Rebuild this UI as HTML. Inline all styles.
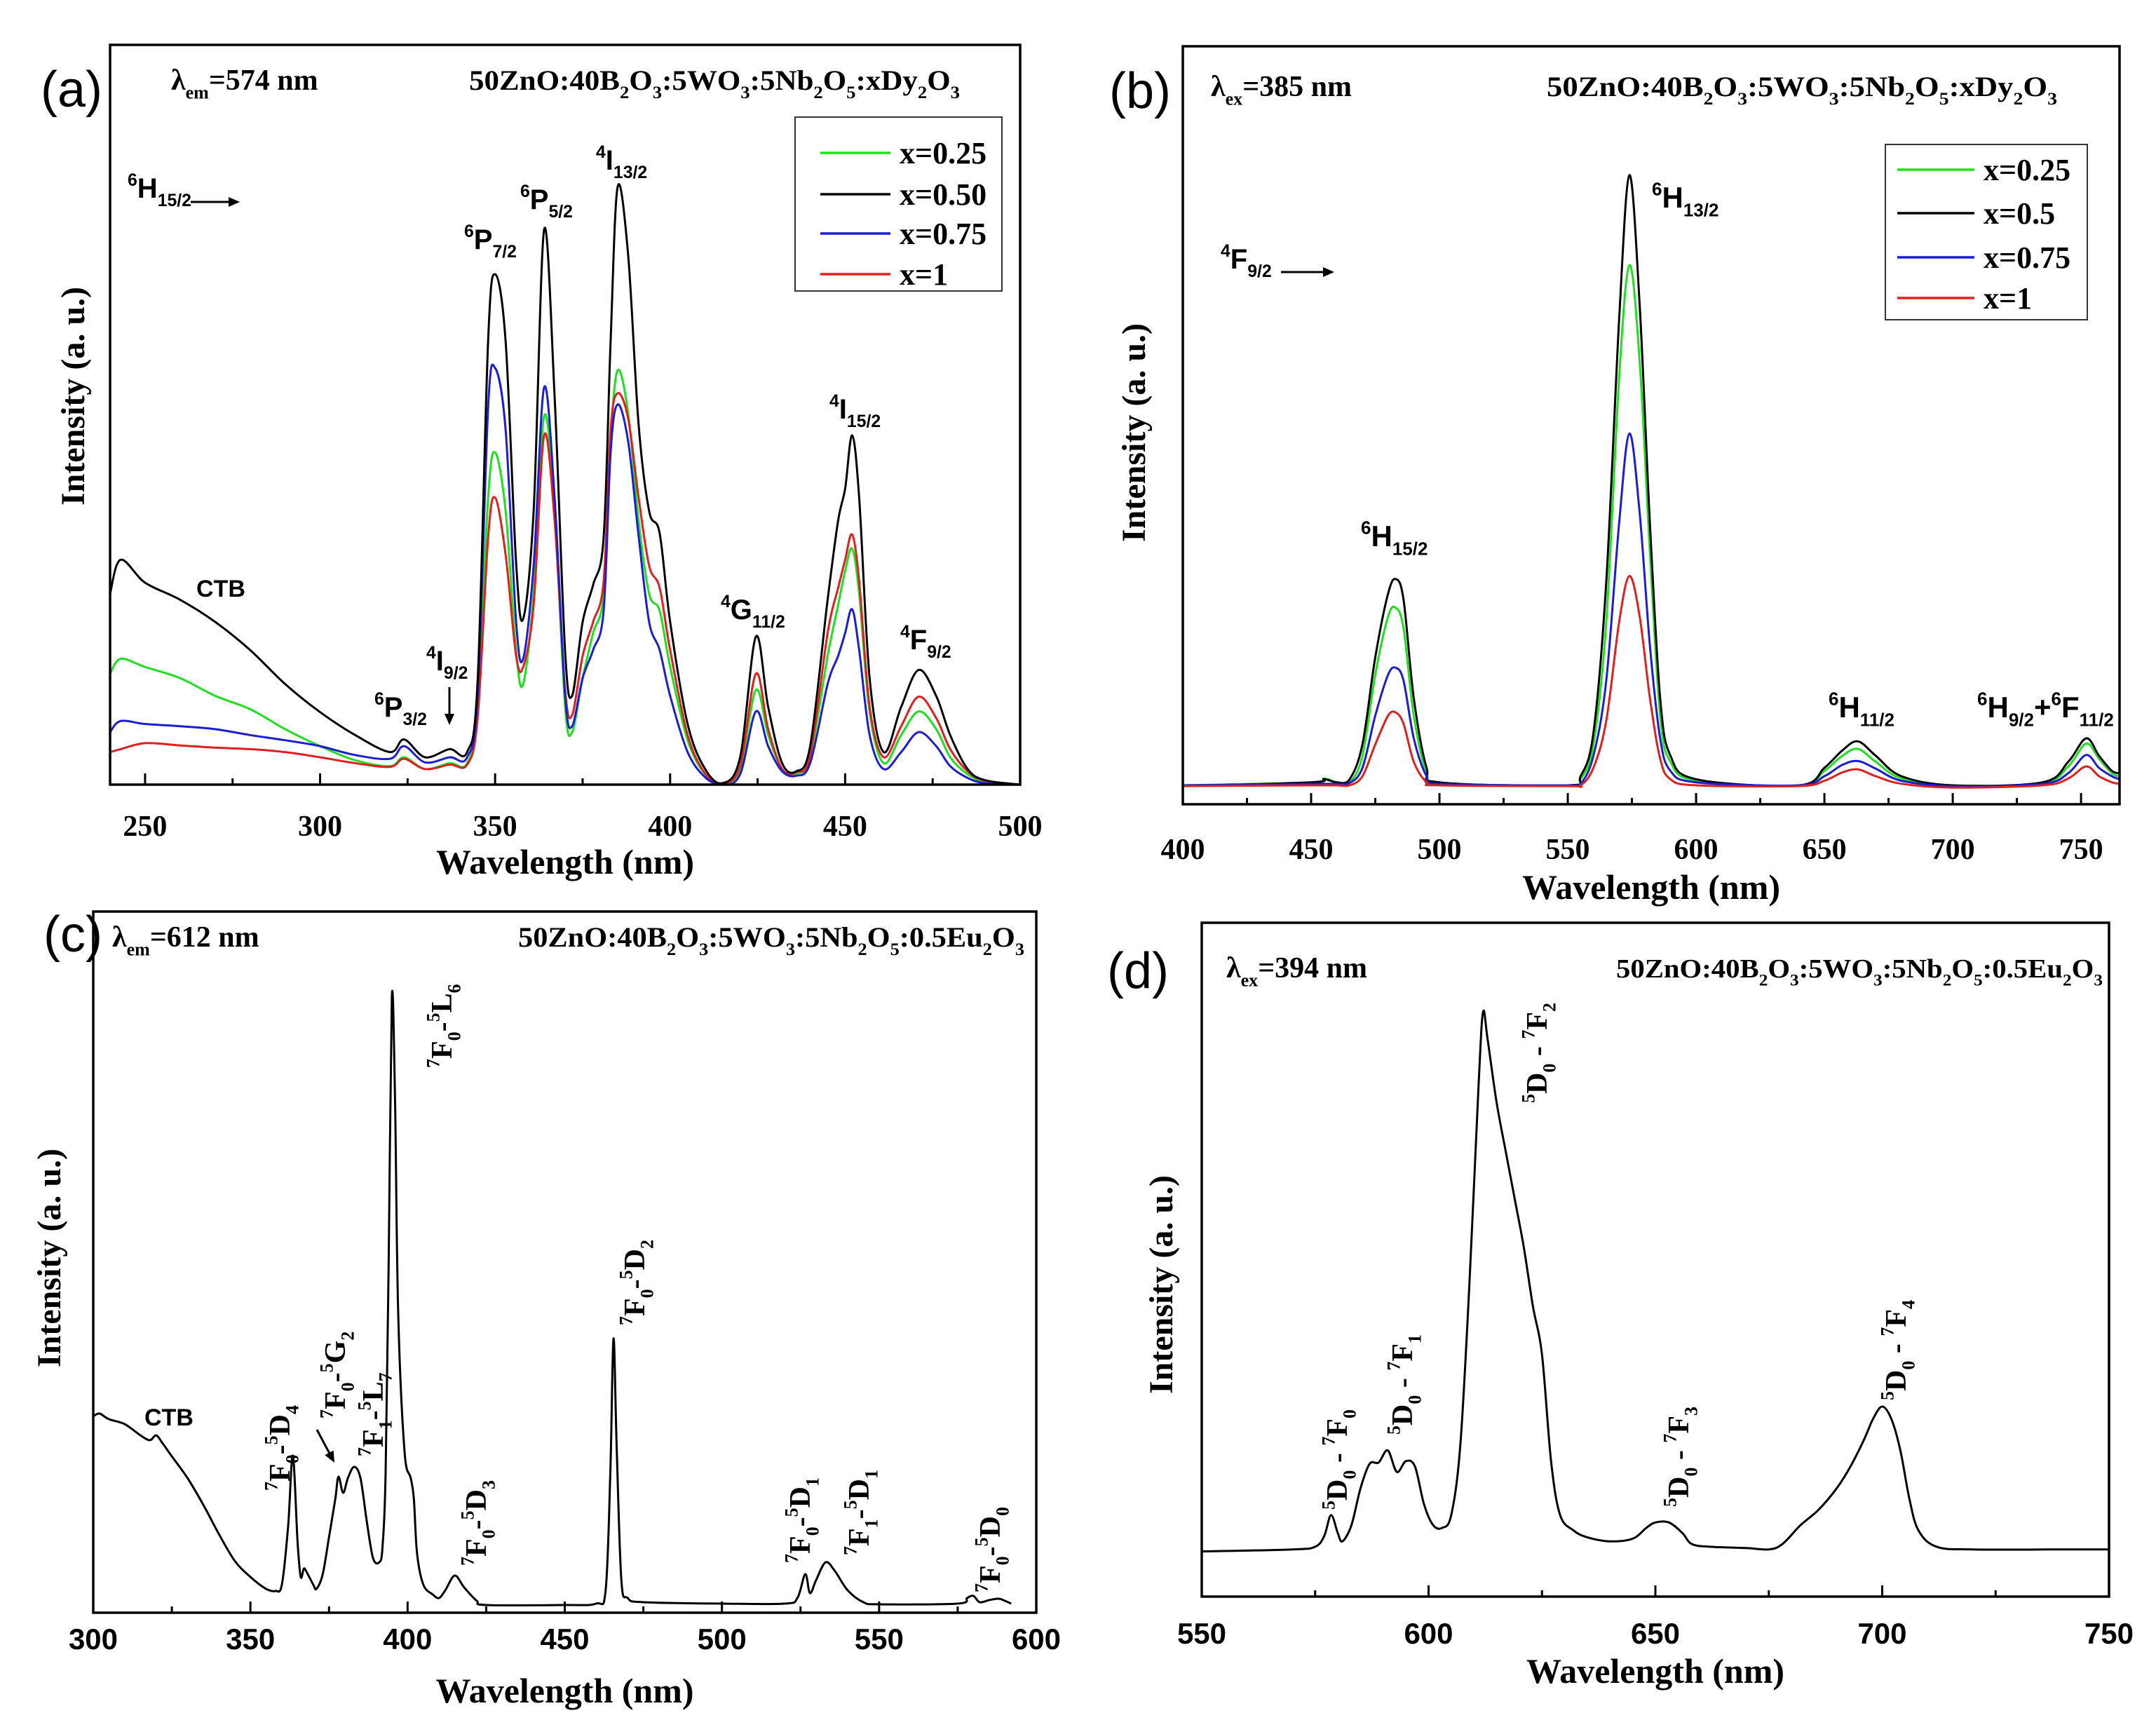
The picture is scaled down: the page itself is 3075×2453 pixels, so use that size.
<!DOCTYPE html>
<html><head><meta charset="utf-8"><style>
html,body{margin:0;padding:0;background:#fff;}
svg{display:block;}
.serif{font-family:"Liberation Serif",serif;font-weight:bold;}
.sans{font-family:"Liberation Sans",sans-serif;font-weight:bold;}
.plain{font-family:"Liberation Sans",sans-serif;font-weight:normal;}
</style></head><body>
<svg id="fig" xmlns="http://www.w3.org/2000/svg" width="3075" height="2453" viewBox="0 0 3075 2453"></svg>
<script>
// ---------- Panel (a) data: excitation spectra ----------
const aWl = [240,243,250,260,270,280,290,300,310,320,324,330,337,342,345,348,350,353,356,358,361,364,367,370,372,375,378,381,383,385,388,391,394,397,400,405,410,415,420,424.5,428,432,436,440,445,448,450,452,454,457,461,466,471,476,480,485,490,500];
const aX025 = [15,17,15.9,14.4,12,10.2,7.5,5.2,3.3,2.5,3.7,2.1,2.9,2.9,10.5,38.8,44.9,37,18,13.6,25.8,49.8,37,10.5,7.1,14.4,20.5,25.8,46.4,56,50.2,35.7,25.8,23.5,15.9,6,1.4,0.2,2.1,12.8,6.7,2.1,1.5,3.7,17.4,24.3,28.9,31.9,25.8,9.8,2.9,6.7,9.9,7.5,3.7,1.4,0.4,0];
const aX050 = [25.8,30.4,27.3,25,22,18.2,13.6,9.8,6.7,4.4,6.1,3.7,4.8,4.4,14,60,69,60,30,22.4,37,75,52.5,18,12,22,27,33.4,60,80.8,71.6,48.7,37,34,22,8.2,2.1,0.2,3.7,20,10.5,2.9,1.8,5.2,25,35.7,40,47.2,38.8,14.4,4.4,10.5,15.5,12,6.7,2.1,0.6,0];
const aX075 = [7.1,8.6,8.2,7.9,7.5,6.7,6,5.2,4,3.5,5.2,3,3.7,3.7,12,51,56.3,48,22,17,29.6,53.7,38.8,12,7.9,14.4,18.2,23.5,44.9,51.4,46.4,33.6,22,18.2,12,4.4,1,0,1.4,9.9,5.2,1.8,1.2,2.9,13.6,17.4,20.5,23.7,18.2,6.7,2.1,4.4,7.1,5.2,2.5,0.9,0.2,0];
const aX100 = [4.4,4.8,5.6,5.3,5,4.8,4.4,3.7,2.9,2.4,3.5,2.1,2.7,2.7,9,33.4,38.8,31.1,17.4,15.9,24.3,47.2,35.7,12.8,9.4,17.4,22,27.5,48,52.9,49.5,38.8,29.6,26.6,18.2,6.7,1.5,0.2,2.5,15,7.5,2.1,1.7,4,20.5,26.6,30.4,33.8,27.5,10.5,3.7,7.9,11.9,9,4.8,1.8,0.5,0];
const aTicks = [250,300,350,400,450,500];
// ---------- Panel (b) data: emission spectra ----------
const bWl = [400,450,455,460,465,470,475,480,483,486,490,495,500,550,555,560,565,570,574,578,582,586,590,600,640,650,657,663,670,680,700,735,745,752,757,762,765];
const bX025 = [2.5,2.9,3.4,2.9,2.9,6.4,17.1,24.8,25.9,23.2,11.7,4.1,2.7,2.5,3.3,7.9,24,56.2,71.1,58.5,33.2,11.7,5.6,3.1,2.5,4.4,6.4,7.3,5.6,3.4,2.5,2.8,5,8,6,4.1,3.7];
const bX050 = [2.4,2.9,3.3,2.9,3.3,7.9,19.4,27.8,29.7,27,14,4.8,2.9,2.5,3.7,9.4,29.3,63.8,83,66,37,14,6.4,3.3,2.5,4.8,7.1,8.3,6.4,3.7,2.5,2.9,5.6,8.7,6.4,4.4,4.1];
const bX075 = [2.5,2.7,2.7,2.7,2.8,4.8,11.7,17.1,18,16.3,8.7,3.7,2.7,2.5,2.7,6.4,16.3,37,48.9,38.5,20.9,8.7,4.4,2.9,2.5,3.7,5.2,5.7,4.7,3.1,2.4,2.7,4.1,6.5,4.8,3.7,3.3];
const bX100 = [2.4,2.5,2.5,2.5,2.5,3.7,7.9,11.7,12.1,10.6,5.6,2.9,2.5,2.4,2.5,4.8,11,24,30.1,24.8,14,6,3.3,2.5,2.4,3.1,4.2,4.6,3.7,2.7,2.2,2.5,3.4,5,3.7,2.9,2.7];
const bTicks = [400,450,500,550,600,650,700,750];
// ---------- Panel (c) data ----------
const cWl = [300,302,305,310,315,318,320,322,325,330,335,340,345,350,355,358,360,362,363.5,365,366,367,368,370,371,373,375,377,378,379.5,381,383,385,387,389,391,392,393,394,395,396,397,399,401,402,403,405,408,410,412,415,418,422,425,450,460,463,464.5,465.5,466.5,468,470,475,500,520,524,526.5,528,530,533,536,540,545,550,575,578,580,582,585,588,590,592];
const cInt = [28,28.4,27.6,26.9,25.3,24.6,25.3,24.2,22.3,19.2,15.4,11.2,7.4,5.1,3.4,3.1,4,12.4,22.4,10.1,5.1,6.3,5.7,4,3.4,5.5,10.8,16.2,19.4,17.1,19.2,20.8,19.2,13.1,7.8,7.2,9.3,20,50.5,87.9,73.4,42.9,23.1,19.2,16.2,8.5,4,2.6,2.1,3.2,5.3,3.6,1.7,1.1,1.1,1.3,3.2,20,39.1,23.8,4.7,2.1,1.5,1.3,1.3,2.1,5.5,2.8,4.7,7.2,5.9,3.2,1.5,1.2,1.3,2.1,2.4,1.5,1.8,2,1.7,1.3];
const cTicks = [300,350,400,450,500,550,600];
// ---------- Panel (d) data ----------
const dWl = [550,570,575,577,578.5,580,581,583,585,587,589,591,593,595,597,599,601,603,605,607,609,611,612,613,615,617,619,621,623,625,627,629,632,635,640,645,648,650,653,656,658,662,670,675,678,682,686,690,693,696,698,700,702,704,706,708,712,720,740,750];
const dInt = [6.7,7,7.4,9,12.1,9.4,8.2,10.6,16.1,19.7,19.9,21.7,18.5,20.1,19.3,13.7,10.6,10.2,12.1,22.5,46.3,75.6,86.7,82.8,73.3,66.1,59,51.8,43.1,35.9,20.1,12.1,9.8,8.8,8.2,8.6,10.2,11,11,9.4,7.8,7.4,7.2,7,7.8,10.6,12.9,16.1,19.3,23.3,26.4,28.2,26.4,21.7,14.5,9.8,7.4,7,7,7];
const dTicks = [550,600,650,700,750];

const NS = 'http://www.w3.org/2000/svg';
const svg = document.getElementById('fig');

function mk(tag, attrs, parent) {
  const el = document.createElementNS(NS, tag);
  for (const k in attrs) el.setAttribute(k, attrs[k]);
  (parent || svg).appendChild(el);
  return el;
}
function rich(el, s, fs) {
  const re = /(\^\{[^}]*\}|_\{[^}]*\})|([^\^_]+)/g;
  let m, cur = 0;
  while ((m = re.exec(s)) !== null) {
    let txt, target, size;
    if (m[1]) {
      txt = m[1].slice(2, -1);
      target = m[1][0] === '^' ? -0.42 * fs : 0.3 * fs;
      size = 0.62 * fs;
    } else { txt = m[2]; target = 0; size = fs; }
    const t = document.createElementNS(NS, 'tspan');
    t.setAttribute('dy', (target - cur).toFixed(1));
    t.setAttribute('font-size', size.toFixed(1));
    t.textContent = txt;
    el.appendChild(t);
    cur = target;
  }
}
function lab(x, y, s, fs, cls, name, opts) {
  opts = opts || {};
  const el = mk('text', {x: x, y: y, 'font-size': fs, class: cls}, svg);
  
  
  if (opts.anchor) el.setAttribute('text-anchor', opts.anchor);
  if (opts.rot) el.setAttribute('transform', 'rotate(' + opts.rot + ' ' + x + ' ' + y + ')');
  if (opts.len) { el.setAttribute('textLength', opts.len); el.setAttribute('lengthAdjust', 'spacingAndGlyphs'); }
  rich(el, s, fs);
  return el;
}
function arrow(x1, y1, x2, y2, name) {
  const g = mk('g', {});
  
  
  const ang = Math.atan2(y2 - y1, x2 - x1), h = 16, w = 7;
  mk('line', {x1: x1, y1: y1, x2: x2 - Math.cos(ang) * h * 0.8, y2: y2 - Math.sin(ang) * h * 0.8, stroke: '#000', 'stroke-width': 3}, g);
  const p1 = [x2 - h * Math.cos(ang) + w * Math.sin(ang), y2 - h * Math.sin(ang) - w * Math.cos(ang)];
  const p2 = [x2 - h * Math.cos(ang) - w * Math.sin(ang), y2 - h * Math.sin(ang) + w * Math.cos(ang)];
  mk('polygon', {points: x2 + ',' + y2 + ' ' + p1.join(',') + ' ' + p2.join(','), fill: '#000'}, g);
}
function pathD(pts) {
  let d = 'M' + pts[0][0].toFixed(1) + ',' + pts[0][1].toFixed(1);
  for (let i = 0; i < pts.length - 1; i++) {
    const p0 = pts[Math.max(0, i - 1)], p1 = pts[i], p2 = pts[i + 1], p3 = pts[Math.min(pts.length - 1, i + 2)];
    const c1 = [p1[0] + (p2[0] - p0[0]) / 6, p1[1] + (p2[1] - p0[1]) / 6];
    const c2 = [p2[0] - (p3[0] - p1[0]) / 6, p2[1] - (p3[1] - p1[1]) / 6];
    d += 'C' + c1[0].toFixed(1) + ',' + c1[1].toFixed(1) + ' ' + c2[0].toFixed(1) + ',' + c2[1].toFixed(1) + ' ' + p2[0].toFixed(1) + ',' + p2[1].toFixed(1);
  }
  return d;
}
function panel(cfg) {
  const {L, R, T, B, xmin, xmax, ticks, key, tickCls, tickY, xtY, ytX, ytY} = cfg;
  const sx = w => L + (w - xmin) / (xmax - xmin) * (R - L);
  const sy = v => B - v / 100 * (B - T);
  const g = mk('g', {});
  
  
  const clip = mk('clipPath', {id: 'clip-' + key}, g);
  mk('rect', {x: L, y: T, width: R - L, height: B - T}, clip);
  cfg.series.forEach(s => {
    const pts = [];
    const n = Math.min(s.wl.length, s.vals.length);
    for (let i = 0; i < n; i++) pts.push([sx(s.wl[i]), sy(s.vals[i])]);
    const p = mk('path', {d: pathD(pts), fill: 'none', stroke: s.color, 'stroke-width': 3, 'stroke-linejoin': 'round', 'clip-path': 'url(#clip-' + key + ')'}, g);
    
    
  });
  const frame = mk('rect', {x: L, y: T, width: R - L, height: B - T, fill: 'none', stroke: '#000', 'stroke-width': 3.5}, g);
  
  
  const step = ticks[1] - ticks[0];
  for (let w = ticks[0] - step / 2; w <= xmax + 0.001; w += step / 2) {
    if (w < xmin - 0.001) continue;
    const major = Math.abs(((w - ticks[0]) / step) - Math.round((w - ticks[0]) / step)) < 0.01;
    const t = mk('line', {x1: sx(w), x2: sx(w), y1: B, y2: B - (major ? 16 : 9), stroke: '#000', 'stroke-width': 3}, g);
    
    
  }
  ticks.forEach(v => {
    const t = mk('text', {x: sx(v), y: tickY, 'text-anchor': 'middle', 'font-size': 42, class: tickCls}, g);
    
    
    t.textContent = v;
  });
  lab((L + R) / 2, xtY, 'Wavelength (nm)', 50, 'serif', 'x-axis-title-' + key, {anchor: 'middle'});
  lab(ytX, ytY, 'Intensity (a. u.)', 48, 'serif', 'y-axis-title-' + key, {anchor: 'middle', rot: -90});
}
function legend(x1, y1, x2, y2, entries, key) {
  const g = mk('g', {});
  
  
  mk('rect', {x: x1, y: y1, width: x2 - x1, height: y2 - y1, fill: '#fff', stroke: '#333', 'stroke-width': 2}, g);
  entries.forEach(e => {
    const h = mk('g', {}, g);
    
    
    mk('line', {x1: e.lx1, x2: e.lx2, y1: e.y, y2: e.y, stroke: e.color, 'stroke-width': 3.5}, h);
    const t = mk('text', {x: e.tx, y: e.y + 15, 'font-size': 44, class: 'serif'}, h);
    t.textContent = e.label;
  });
}
const GREEN = '#1ee01e', BLACK = '#000', BLUE = '#1c1cd0', RED = '#dd2020';

// ===== Panel (a) =====
panel({key: 'a', L: 157, R: 1455, T: 64, B: 1119, xmin: 240, xmax: 500, ticks: aTicks, tickCls: 'serif', tickY: 1192, xtY: 1246, ytX: 120, ytY: 565,
  series: [
    {wl: aWl, vals: aX025, color: GREEN, name: 'series-a-x025'},
    {wl: aWl, vals: aX100, color: RED, name: 'series-a-x100'},
    {wl: aWl, vals: aX075, color: BLUE, name: 'series-a-x075'},
    {wl: aWl, vals: aX050, color: BLACK, name: 'series-a-x050'}]});
lab(58, 152, '(a)', 72, 'plain', 'panel-label-a');
lab(244, 128, 'λ_{em}=574 nm', 42, 'serif', 'excitation-condition-a');
lab(669, 128, '50ZnO:40B_{2}O_{3}:5WO_{3}:5Nb_{2}O_{5}:xDy_{2}O_{3}', 40, 'serif', 'composition-a', {len: 700});
legend(1134, 167, 1429, 415, [
  {y: 218, color: GREEN, label: 'x=0.25', lx1: 1170, lx2: 1270, tx: 1283},
  {y: 277, color: BLACK, label: 'x=0.50', lx1: 1170, lx2: 1270, tx: 1283},
  {y: 333, color: BLUE, label: 'x=0.75', lx1: 1170, lx2: 1270, tx: 1283},
  {y: 391, color: RED, label: 'x=1', lx1: 1170, lx2: 1270, tx: 1283}], 'a');
lab(182, 282, '^{6}H_{15/2}', 40, 'sans', 'ground-state-label-a');
arrow(272, 288, 342, 288, 'ground-state-arrow-a');
lab(280, 851, 'CTB', 34, 'sans', 'ctb-label-a');
lab(534, 1022, '^{6}P_{3/2}', 40, 'sans', 'peak-label-6p32');
lab(608, 956, '^{4}I_{9/2}', 40, 'sans', 'peak-label-4i92');
arrow(641, 980, 641, 1034, 'peak-arrow-4i92');
lab(662, 355, '^{6}P_{7/2}', 40, 'sans', 'peak-label-6p72');
lab(742, 298, '^{6}P_{5/2}', 40, 'sans', 'peak-label-6p52');
lab(850, 242, '^{4}I_{13/2}', 40, 'sans', 'peak-label-4i132');
lab(1028, 883, '^{4}G_{11/2}', 40, 'sans', 'peak-label-4g112');
lab(1183, 597, '^{4}I_{15/2}', 40, 'sans', 'peak-label-4i152');
lab(1284, 926, '^{4}F_{9/2}', 40, 'sans', 'peak-label-4f92');

// ===== Panel (b) =====
panel({key: 'b', L: 1687, R: 3023, T: 66, B: 1147, xmin: 400, xmax: 765, ticks: bTicks, tickCls: 'serif', tickY: 1225, xtY: 1282, ytX: 1633, ytY: 617,
  series: [
    {wl: bWl, vals: bX025, color: GREEN, name: 'series-b-x025'},
    {wl: bWl, vals: bX050, color: BLACK, name: 'series-b-x05'},
    {wl: bWl, vals: bX075, color: BLUE, name: 'series-b-x075'},
    {wl: bWl, vals: bX100, color: RED, name: 'series-b-x100'}]});
lab(1582, 154, '(b)', 72, 'plain', 'panel-label-b');
lab(1727, 137, 'λ_{ex}=385 nm', 42, 'serif', 'excitation-condition-b');
lab(2206, 137, '50ZnO:40B_{2}O_{3}:5WO_{3}:5Nb_{2}O_{5}:xDy_{2}O_{3}', 40, 'serif', 'composition-b', {len: 728});
legend(2689, 206, 2977, 456, [
  {y: 242, color: GREEN, label: 'x=0.25', lx1: 2706, lx2: 2816, tx: 2829},
  {y: 304, color: BLACK, label: 'x=0.5', lx1: 2706, lx2: 2816, tx: 2829},
  {y: 367, color: BLUE, label: 'x=0.75', lx1: 2706, lx2: 2816, tx: 2829},
  {y: 425, color: RED, label: 'x=1', lx1: 2706, lx2: 2816, tx: 2829}], 'b');
lab(1741, 383, '^{4}F_{9/2}', 40, 'sans', 'ground-state-label-b');
arrow(1827, 388, 1903, 388, 'ground-state-arrow-b');
lab(2356, 296, '^{6}H_{13/2}', 42, 'sans', 'peak-label-6h132');
lab(1941, 779, '^{6}H_{15/2}', 42, 'sans', 'peak-label-6h152');
lab(2608, 1023, '^{6}H_{11/2}', 42, 'sans', 'peak-label-6h112');
lab(2820, 1023, '^{6}H_{9/2}+^{6}F_{11/2}', 42, 'sans', 'peak-label-6h92-6f112');

// ===== Panel (c) =====
panel({key: 'c', L: 133, R: 1478, T: 1300, B: 2300, xmin: 300, xmax: 600, ticks: cTicks, tickCls: 'sans', tickY: 2352, xtY: 2428, ytX: 86, ytY: 1794,
  series: [{wl: cWl, vals: cInt, color: BLACK, name: 'series-c-excitation'}]});
lab(62, 1357, '(c)', 72, 'plain', 'panel-label-c');
lab(160, 1350, 'λ_{em}=612 nm', 42, 'serif', 'excitation-condition-c');
lab(739, 1350, '50ZnO:40B_{2}O_{3}:5WO_{3}:5Nb_{2}O_{5}:0.5Eu_{2}O_{3}', 40, 'serif', 'composition-c', {len: 722});
lab(206, 2033, 'CTB', 34, 'sans', 'ctb-label-c');
lab(413, 2126, '^{7}F_{0}-^{5}D_{4}', 42, 'serif', 'peak-label-7f0-5d4', {rot: -90});
lab(492, 2023, '^{7}F_{0}-^{5}G_{2}', 42, 'serif', 'peak-label-7f0-5g2', {rot: -90});
lab(546, 2077, '^{7}F_{1}-^{5}L_{7}', 42, 'serif', 'peak-label-7f1-5l7', {rot: -90});
arrow(452, 2039, 477, 2086, 'peak-arrow-5g2');
lab(644, 1523, '^{7}F_{0}-^{5}L_{6}', 42, 'serif', 'peak-label-7f0-5l6', {rot: -90});
lab(693, 2233, '^{7}F_{0}-^{5}D_{3}', 42, 'serif', 'peak-label-7f0-5d3', {rot: -90});
lab(919, 1890, '^{7}F_{0}-^{5}D_{2}', 42, 'serif', 'peak-label-7f0-5d2', {rot: -90});
lab(1155, 2229, '^{7}F_{0}-^{5}D_{1}', 42, 'serif', 'peak-label-7f0-5d1', {rot: -90});
lab(1239, 2218, '^{7}F_{1}-^{5}D_{1}', 42, 'serif', 'peak-label-7f1-5d1', {rot: -90});
lab(1426, 2271, '^{7}F_{0}-^{5}D_{0}', 42, 'serif', 'peak-label-7f0-5d0', {rot: -90});

// ===== Panel (d) =====
panel({key: 'd', L: 1714, R: 3008, T: 1316, B: 2277, xmin: 550, xmax: 750, ticks: dTicks, tickCls: 'sans', tickY: 2344, xtY: 2400, ytX: 1672, ytY: 1832,
  series: [{wl: dWl, vals: dInt, color: BLACK, name: 'series-d-emission'}]});
lab(1579, 1409, '(d)', 72, 'plain', 'panel-label-d');
lab(1749, 1394, 'λ_{ex}=394 nm', 42, 'serif', 'excitation-condition-d');
lab(2305, 1394, '50ZnO:40B_{2}O_{3}:5WO_{3}:5Nb_{2}O_{5}:0.5Eu_{2}O_{3}', 38, 'serif', 'composition-d', {len: 694});
lab(1921, 2153, '^{5}D_{0} - ^{7}F_{0}', 42, 'serif', 'peak-label-5d0-7f0', {rot: -90});
lab(2014, 2046, '^{5}D_{0} - ^{7}F_{1}', 42, 'serif', 'peak-label-5d0-7f1', {rot: -90});
lab(2206, 1573, '^{5}D_{0} - ^{7}F_{2}', 42, 'serif', 'peak-label-5d0-7f2', {rot: -90});
lab(2408, 2149, '^{5}D_{0} - ^{7}F_{3}', 42, 'serif', 'peak-label-5d0-7f3', {rot: -90});
lab(2718, 1997, '^{5}D_{0} - ^{7}F_{4}', 42, 'serif', 'peak-label-5d0-7f4', {rot: -90});
</script>
</body></html>
